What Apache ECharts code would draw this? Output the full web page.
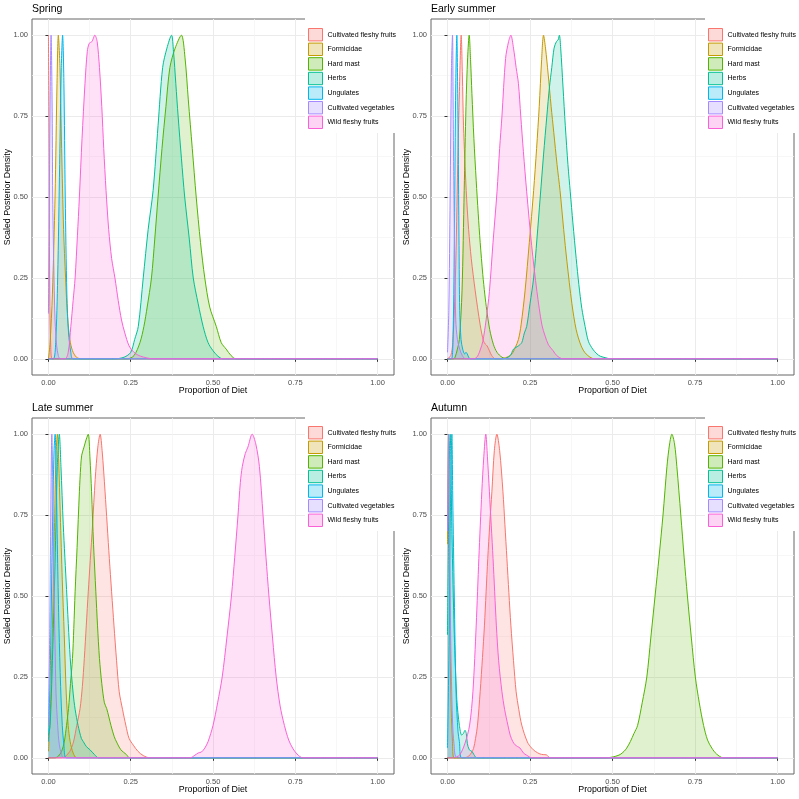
<!DOCTYPE html>
<html>
<head>
<meta charset="utf-8">
<script src="https://cdn.jsdelivr.net/npm/echarts@6/dist/echarts.min.js"></script>
<style>html,body{margin:0;padding:0;background:#fff;}#c{width:799px;height:799px;}</style>
</head>
<body>
<div id="c"></div>
<script>
// ---------- data ----------
const categories = ['Cultivated fleshy fruits','Formicidae','Hard mast','Herbs','Ungulates','Cultivated vegetables','Wild fleshy fruits'];
const colors = ['#F8766D','#C49A00','#53B400','#00C094','#00B6EB','#A58AFF','#FB61D7'];
const seasons = ['Spring','Early summer','Late summer','Autumn'];
const majorTicks = [0, 0.25, 0.5, 0.75, 1];
const minorTicks = [0.125, 0.375, 0.625, 0.875];

// Spring
const springCFF = [[0,1],[0.002,0.6],[0.004,0.2],[0.007,0.04],[0.012,0],[1,0]];
const springFOR = [[0,0],[0.005,0.05],[0.012,0.2],[0.02,0.5],[0.026,0.85],[0.03,1],[0.035,0.9],[0.04,0.65],[0.046,0.4],[0.052,0.25],[0.058,0.13],[0.065,0.06],[0.073,0.025],[0.085,0.005],[0.1,0],[1,0]];
const springHM = [[0,0],[0.24,0],[0.26,0.01],[0.278,0.05],[0.29,0.1],[0.3,0.16],[0.313,0.25],[0.323,0.37],[0.333,0.5],[0.345,0.65],[0.357,0.78],[0.369,0.9],[0.385,0.96],[0.404,1],[0.415,0.93],[0.425,0.8],[0.437,0.65],[0.449,0.5],[0.462,0.36],[0.475,0.25],[0.49,0.16],[0.51,0.1],[0.525,0.05],[0.54,0.03],[0.555,0.01],[0.57,0],[1,0]];
const springHER = [[0,0],[0.2,0],[0.23,0.005],[0.25,0.02],[0.262,0.06],[0.273,0.1],[0.288,0.25],[0.303,0.4],[0.318,0.52],[0.333,0.72],[0.347,0.9],[0.36,0.96],[0.374,1],[0.38,0.95],[0.387,0.85],[0.394,0.75],[0.404,0.62],[0.414,0.5],[0.428,0.37],[0.44,0.25],[0.455,0.17],[0.47,0.1],[0.485,0.05],[0.5,0.025],[0.515,0.008],[0.53,0],[1,0]];
const springUNG = [[0,0],[0.015,0],[0.022,0.05],[0.028,0.25],[0.034,0.6],[0.039,0.9],[0.043,1],[0.047,0.85],[0.051,0.5],[0.056,0.2],[0.061,0.08],[0.068,0.02],[0.075,0],[1,0]];
const springCV = [[0,0.14],[0.002,0.4],[0.005,0.8],[0.008,1],[0.011,0.8],[0.013,0.5],[0.016,0.3],[0.02,0.12],[0.025,0.04],[0.03,0.01],[0.036,0],[1,0]];
const springWFF = [[0,0],[0.05,0],[0.06,0.02],[0.068,0.1],[0.075,0.18],[0.081,0.25],[0.088,0.38],[0.094,0.5],[0.102,0.68],[0.111,0.85],[0.118,0.95],[0.124,0.975],[0.132,0.98],[0.141,1],[0.148,0.98],[0.155,0.9],[0.162,0.78],[0.168,0.65],[0.175,0.52],[0.183,0.4],[0.192,0.31],[0.202,0.25],[0.212,0.18],[0.222,0.12],[0.232,0.08],[0.245,0.04],[0.26,0.02],[0.28,0.008],[0.32,0],[1,0]];

// Early summer
const earlyCFF = [[0,0],[0.01,0.01],[0.016,0.05],[0.024,0.25],[0.031,0.6],[0.0355,0.8],[0.0415,1],[0.045,0.88],[0.0485,0.72],[0.0567,0.52],[0.064,0.4],[0.072,0.31],[0.084,0.21],[0.099,0.105],[0.109,0.055],[0.115,0.045],[0.12,0.04],[0.127,0.025],[0.134,0.01],[0.145,0],[1,0]];
const earlyFOR = [[0,0],[0.16,0],[0.18,0.005],[0.195,0.015],[0.205,0.034],[0.215,0.06],[0.223,0.105],[0.235,0.21],[0.248,0.36],[0.261,0.52],[0.27,0.65],[0.278,0.78],[0.285,0.92],[0.291,1],[0.297,0.96],[0.305,0.88],[0.314,0.78],[0.322,0.7],[0.332,0.6],[0.341,0.52],[0.352,0.4],[0.362,0.3],[0.377,0.17],[0.39,0.09],[0.405,0.04],[0.42,0.015],[0.445,0],[1,0]];
const earlyHM = [[0,0],[0.018,0],[0.023,0.005],[0.03,0.03],[0.036,0.06],[0.044,0.21],[0.0506,0.52],[0.056,0.78],[0.061,0.93],[0.0657,1],[0.07,0.92],[0.074,0.82],[0.08,0.68],[0.087,0.55],[0.093,0.45],[0.099,0.36],[0.107,0.26],[0.113,0.2],[0.119,0.15],[0.128,0.09],[0.139,0.045],[0.15,0.02],[0.165,0.005],[0.18,0],[1,0]];
const earlyHER = [[0,0],[0.17,0],[0.19,0.01],[0.2,0.03],[0.215,0.04],[0.225,0.05],[0.233,0.08],[0.24,0.1],[0.25,0.17],[0.261,0.25],[0.271,0.37],[0.281,0.5],[0.291,0.63],[0.301,0.75],[0.309,0.84],[0.316,0.9],[0.323,0.96],[0.33,0.98],[0.335,0.985],[0.339,1],[0.343,0.96],[0.35,0.84],[0.357,0.72],[0.365,0.6],[0.372,0.516],[0.38,0.42],[0.39,0.31],[0.398,0.23],[0.407,0.156],[0.417,0.1],[0.427,0.054],[0.44,0.03],[0.453,0.015],[0.463,0.008],[0.48,0.003],[0.493,0],[1,0]];
const earlyUNG = [[0,0],[0.012,0],[0.017,0.08],[0.021,0.4],[0.025,0.85],[0.0283,1],[0.031,0.82],[0.033,0.6],[0.035,0.35],[0.037,0.15],[0.041,0.06],[0.046,0.03],[0.052,0.015],[0.056,0.02],[0.06,0.015],[0.065,0.003],[0.07,0],[1,0]];
const earlyCV = [[0,0.02],[0.004,0.15],[0.008,0.5],[0.012,0.9],[0.0152,1],[0.017,0.8],[0.019,0.55],[0.022,0.3],[0.025,0.12],[0.03,0.06],[0.037,0.03],[0.045,0.01],[0.055,0],[1,0]];
const earlyWFF = [[0,0],[0.08,0],[0.091,0.008],[0.1,0.03],[0.107,0.054],[0.117,0.12],[0.127,0.208],[0.138,0.36],[0.15,0.516],[0.158,0.65],[0.165,0.75],[0.176,0.928],[0.185,0.98],[0.192,1],[0.2,0.96],[0.208,0.9],[0.215,0.85],[0.222,0.75],[0.23,0.64],[0.24,0.516],[0.255,0.35],[0.271,0.208],[0.286,0.105],[0.296,0.07],[0.306,0.043],[0.32,0.025],[0.331,0.01],[0.35,0],[1,0]];

// Late summer
const lateCFF = [[0,0],[0.04,0],[0.052,0.005],[0.065,0.02],[0.076,0.049],[0.086,0.1],[0.096,0.152],[0.103,0.22],[0.109,0.307],[0.115,0.41],[0.121,0.513],[0.127,0.61],[0.134,0.719],[0.142,0.86],[0.15,0.96],[0.157,1],[0.163,0.95],[0.172,0.822],[0.185,0.616],[0.199,0.41],[0.207,0.3],[0.215,0.204],[0.225,0.15],[0.235,0.101],[0.245,0.06],[0.258,0.039],[0.272,0.02],[0.288,0.007],[0.308,0],[1,0]];
const lateFOR = [[0,0.02],[0.006,0.15],[0.012,0.4],[0.018,0.7],[0.023,0.93],[0.027,1],[0.031,0.92],[0.036,0.75],[0.042,0.55],[0.048,0.38],[0.054,0.2],[0.06,0.1],[0.066,0.05],[0.075,0.015],[0.086,0],[1,0]];
const lateHM = [[0,0],[0.02,0],[0.03,0.005],[0.04,0.02],[0.048,0.049],[0.055,0.1],[0.061,0.152],[0.067,0.23],[0.073,0.307],[0.077,0.4],[0.081,0.513],[0.087,0.65],[0.094,0.822],[0.098,0.9],[0.101,0.935],[0.108,0.96],[0.115,0.985],[0.121,1],[0.126,0.93],[0.131,0.822],[0.137,0.66],[0.144,0.513],[0.149,0.41],[0.155,0.307],[0.162,0.23],[0.17,0.17],[0.177,0.152],[0.19,0.1],[0.2,0.065],[0.207,0.049],[0.22,0.025],[0.237,0.01],[0.247,0],[1,0]];
const lateHER = [[0,0.07],[0.005,0.1],[0.012,0.3],[0.02,0.6],[0.027,0.9],[0.033,1],[0.038,0.9],[0.045,0.72],[0.055,0.52],[0.066,0.31],[0.075,0.2],[0.081,0.15],[0.09,0.1],[0.1,0.06],[0.106,0.05],[0.115,0.035],[0.126,0.025],[0.14,0.01],[0.152,0],[1,0]];
const lateUNG = [[0,0.05],[0.006,0.3],[0.012,0.7],[0.017,0.95],[0.0203,1],[0.024,0.85],[0.028,0.6],[0.032,0.4],[0.037,0.22],[0.042,0.1],[0.047,0.04],[0.054,0],[1,0]];
const lateCV = [[0,0.1],[0.004,0.4],[0.008,0.85],[0.0102,1],[0.013,0.85],[0.017,0.52],[0.02,0.35],[0.023,0.2],[0.028,0.1],[0.033,0.04],[0.04,0.01],[0.046,0],[1,0]];
const lateWFF = [[0,0],[0.43,0],[0.445,0.008],[0.455,0.015],[0.465,0.018],[0.475,0.03],[0.485,0.05],[0.5,0.1],[0.514,0.17],[0.528,0.25],[0.542,0.37],[0.556,0.5],[0.566,0.62],[0.576,0.75],[0.583,0.85],[0.589,0.9],[0.598,0.94],[0.606,0.96],[0.619,1],[0.63,0.97],[0.641,0.9],[0.652,0.75],[0.661,0.62],[0.67,0.5],[0.681,0.37],[0.692,0.25],[0.704,0.16],[0.717,0.1],[0.73,0.055],[0.742,0.03],[0.755,0.012],[0.773,0],[1,0]];

// Autumn
const autCFF = [[0,0],[0.05,0],[0.064,0.005],[0.072,0.015],[0.079,0.029],[0.085,0.06],[0.091,0.101],[0.099,0.204],[0.106,0.31],[0.112,0.41],[0.122,0.616],[0.128,0.72],[0.1345,0.822],[0.142,0.95],[0.1496,1],[0.158,0.95],[0.168,0.822],[0.174,0.72],[0.18,0.616],[0.186,0.51],[0.192,0.41],[0.2,0.3],[0.208,0.204],[0.216,0.15],[0.225,0.101],[0.242,0.049],[0.255,0.03],[0.266,0.02],[0.28,0.012],[0.29,0.01],[0.3,0.009],[0.311,0],[1,0]];
const autFOR = [[0,0.66],[0.003,1],[0.006,0.6],[0.01,0.2],[0.015,0.05],[0.02,0],[1,0]];
const autHM = [[0,0],[0.48,0],[0.498,0.002],[0.51,0.005],[0.523,0.01],[0.535,0.02],[0.543,0.03],[0.554,0.05],[0.565,0.075],[0.576,0.1],[0.59,0.17],[0.604,0.25],[0.616,0.37],[0.629,0.5],[0.641,0.62],[0.653,0.75],[0.665,0.9],[0.673,0.97],[0.68,1],[0.688,0.97],[0.695,0.9],[0.707,0.75],[0.717,0.62],[0.727,0.5],[0.739,0.37],[0.751,0.25],[0.763,0.17],[0.776,0.1],[0.788,0.055],[0.801,0.03],[0.815,0.012],[0.836,0],[1,0]];
const autHER = [[0,0.38],[0.003,0.7],[0.006,0.95],[0.008,1],[0.0135,0.69],[0.0206,0.38],[0.0283,0.18],[0.036,0.1],[0.043,0.07],[0.048,0.075],[0.053,0.085],[0.057,0.075],[0.06,0.045],[0.066,0.025],[0.074,0.02],[0.08,0.01],[0.089,0],[1,0]];
const autUNG = [[0,0.03],[0.004,0.3],[0.008,0.7],[0.0133,1],[0.016,0.8],[0.0206,0.5],[0.026,0.2],[0.032,0.08],[0.036,0.05],[0.043,0],[1,0]];
const autCV = [[0,0.7],[0.003,1],[0.006,0.7],[0.01,0.35],[0.015,0.12],[0.02,0.04],[0.03,0],[1,0]];
const autWFF = [[0,0],[0.02,0],[0.028,0.003],[0.038,0.01],[0.053,0.045],[0.067,0.101],[0.077,0.204],[0.087,0.41],[0.095,0.616],[0.104,0.822],[0.11,0.93],[0.116,1],[0.121,0.93],[0.127,0.822],[0.138,0.616],[0.148,0.41],[0.155,0.3],[0.165,0.204],[0.173,0.15],[0.183,0.101],[0.19,0.07],[0.198,0.05],[0.205,0.04],[0.212,0.035],[0.22,0.03],[0.23,0.015],[0.24,0.008],[0.256,0],[1,0]];

const panelData = [
  [springCFF, springFOR, springHM, springHER, springUNG, springCV, springWFF],
  [earlyCFF, earlyFOR, earlyHM, earlyHER, earlyUNG, earlyCV, earlyWFF],
  [lateCFF, lateFOR, lateHM, lateHER, lateUNG, lateCV, lateWFF],
  [autCFF, autFOR, autHM, autHER, autUNG, autCV, autWFF]
];

// ---------- layout ----------
const FONT = '"Liberation Sans", Arial, Helvetica, sans-serif';
const gridPos = [
  {left: 32, top: 19, width: 362, height: 356},
  {left: 431, top: 19, width: 363, height: 356},
  {left: 32, top: 418, width: 362, height: 356},
  {left: 431, top: 418, width: 363, height: 356}
];
const titlePos = [{left: 32, top: 4}, {left: 431, top: 4}, {left: 32, top: 403}, {left: 431, top: 403}];
const legendPos = [{left: 305, top: 15}, {left: 705, top: 15}, {left: 305, top: 413}, {left: 705, top: 413}];

function rgba(hex, a) {
  const n = parseInt(hex.slice(1), 16);
  return 'rgba(' + ((n >> 16) & 255) + ',' + ((n >> 8) & 255) + ',' + (n & 255) + ',' + a + ')';
}
const FILL_A = 0.27;

const grids = [], xAxes = [], yAxes = [], series = [], titles = [], legends = [];
for (let p = 0; p < 4; p++) {
  grids.push(Object.assign({show: true, borderColor: '#666', borderWidth: 1, backgroundColor: 'transparent', outerBoundsMode: 'none', containLabel: false}, gridPos[p]));
  titles.push(Object.assign({text: seasons[p], padding: 0, textStyle: {fontSize: 10.5, fontWeight: 'normal', color: '#000', fontFamily: FONT}}, titlePos[p]));
  xAxes.push({
    gridIndex: p, type: 'value', min: -0.05, max: 1.05,
    axisLine: {show: false},
    axisTick: {show: true, customValues: majorTicks, length: 3, lineStyle: {color: '#333', width: 1}},
    axisLabel: {customValues: majorTicks, formatter: v => v.toFixed(2), fontSize: 7.5, color: '#4d4d4d', margin: 4, fontFamily: FONT},
    splitLine: {show: true, lineStyle: {color: '#ebebeb', width: 1}},
    name: 'Proportion of Diet', nameLocation: 'middle', nameGap: 11, nameMoveOverlap: false,
    nameTextStyle: {fontSize: 8.8, color: '#000', fontFamily: FONT}
  });
  xAxes.push({
    gridIndex: p, type: 'value', min: -0.05, max: 1.05, position: 'bottom',
    axisLine: {show: false}, axisLabel: {show: false},
    axisTick: {show: false, customValues: minorTicks},
    splitLine: {show: true, lineStyle: {color: '#f3f3f3', width: 0.7}}
  });
  yAxes.push({
    gridIndex: p, type: 'value', min: -0.05, max: 1.05,
    axisLine: {show: false},
    axisTick: {show: true, customValues: majorTicks, length: 3, lineStyle: {color: '#333', width: 1}},
    axisLabel: {customValues: majorTicks, formatter: v => v.toFixed(2), fontSize: 7.5, color: '#4d4d4d', margin: 4, fontFamily: FONT},
    splitLine: {show: true, lineStyle: {color: '#ebebeb', width: 1}},
    name: 'Scaled Posterior Density', nameLocation: 'middle', nameGap: 20, nameMoveOverlap: false,
    nameTextStyle: {fontSize: 8.8, color: '#000', fontFamily: FONT}
  });
  yAxes.push({
    gridIndex: p, type: 'value', min: -0.05, max: 1.05, position: 'left',
    axisLine: {show: false}, axisLabel: {show: false},
    axisTick: {show: false, customValues: minorTicks},
    splitLine: {show: true, lineStyle: {color: '#f3f3f3', width: 0.7}}
  });
  for (let k = 0; k < categories.length; k++) {
    series.push({
      type: 'line', name: categories[k], xAxisIndex: p * 2, yAxisIndex: p * 2,
      data: panelData[p][k], symbol: 'none', showSymbol: false, smooth: 0.3,
      silent: true,
      lineStyle: {color: colors[k], width: 1},
      itemStyle: {color: colors[k]},
      areaStyle: {color: rgba(colors[k], FILL_A)}
    });
  }
  legends.push(Object.assign({
    orient: 'vertical', align: 'left', icon: 'rect', itemWidth: 14, itemHeight: 12.4, itemGap: 1.2,
    padding: [13, 5, 4, 3], backgroundColor: '#fff', selectedMode: false, z: 10,
    textStyle: {fontSize: 7, color: '#000', fontFamily: FONT},
    data: categories.map((c, k) => ({name: c, itemStyle: {color: rgba(colors[k], FILL_A), borderColor: colors[k], borderWidth: 1}}))
  }, legendPos[p]));
}

const chart = echarts.init(document.getElementById('c'), null, {renderer: 'canvas'});
chart.setOption({
  animation: false,
  backgroundColor: '#fff',
  textStyle: {fontFamily: FONT},
  title: titles, grid: grids, xAxis: xAxes, yAxis: yAxes, legend: legends, series: series
});
</script>
</body>
</html>
